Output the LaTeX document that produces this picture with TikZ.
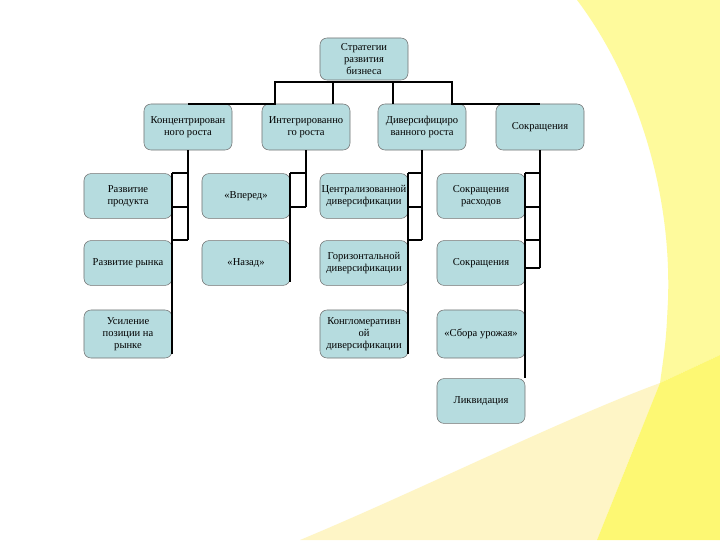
\documentclass[tikz,border=0pt]{standalone}
\usepackage{fontspec}
\setmainfont{Liberation Serif}
\usetikzlibrary{positioning,calc}
\definecolor{boxteal}{HTML}{B6DCDF}
\definecolor{bgyellow}{HTML}{FEFA9C}
\definecolor{bgbright}{HTML}{FDF873}
\definecolor{bgpale}{HTML}{FEF5C6}

\begin{document}
\begin{tikzpicture}[x=0.025cm,y=0.025cm,
  box/.style={draw=black!55,line width=0.4pt,fill=boxteal,rounded corners=5pt,
    align=center,inner sep=1pt,minimum width=2.2cm,minimum height=1.12cm,
    font=\fontsize{7.5}{8.6}\selectfont},
  conn/.style={line width=1.4pt,black}]
  % Background
  \useasboundingbox (0,0) rectangle (720,540);
  \fill[white] (0,0) rectangle (720,540);
  \fill[bgyellow] (577,540) .. controls (630,470) and (672,360) .. (668,240)
    .. controls (666,200) .. (660,157) -- (720,185) -- (720,540) -- cycle;
  \fill[bgpale] (300,0) .. controls (420,50) and (560,120) .. (660,157)
    -- (597,0) -- cycle;
  \fill[bgbright] (597,0) -- (660,157) -- (720,185) -- (720,0) -- cycle;
  % Top
  \node[box,minimum height=1.05cm] (top) at (364,481) {Стратегии\\развития\\бизнеса};
  % Second level
  \node[box,minimum height=1.15cm] (k1) at (188,413) {Концентрирован\\ного роста};
  \node[box,minimum height=1.15cm] (k2) at (306,413) {Интегрированно\\го роста};
  \node[box,minimum height=1.15cm] (k3) at (422,413) {Диверсифициро\\ванного роста};
  \node[box,minimum height=1.15cm] (k4) at (540,413) {Сокращения};
  % Column 1
  \node[box] (a1) at (128,344) {Развитие\\продукта};
  \node[box] (a2) at (128,277) {Развитие рынка};
  \node[box,minimum height=1.2cm] (a3) at (128,206) {Усиление\\позиции на\\рынке};
  % Column 2
  \node[box] (b1) at (246,344) {«Вперед»};
  \node[box] (b2) at (246,277) {«Назад»};
  % Column 3
  \node[box] (c1) at (364,344) {Централизованной\\диверсификации};
  \node[box] (c2) at (364,277) {Горизонтальной\\диверсификации};
  \node[box,minimum height=1.2cm] (c3) at (364,206) {Конгломеративн\\ой\\диверсификации};
  % Column 4
  \node[box] (d1) at (481,344) {Сокращения\\расходов};
  \node[box] (d2) at (481,277) {Сокращения};
  \node[box,minimum height=1.2cm] (d3) at (481,206) {«Сбора урожая»};
  \node[box] (d4) at (481,139) {Ликвидация};
  % Bus under the top box
  \draw[conn] (k1.north) -| ($(k2.north west)+(13,0)$)
    |- ($(k3.north east)+(-14,22)$) |- (k4.north);
  \draw[conn] ($(k2.north)+(27,0)$) -- ++(0,22);
  \draw[conn] ($(k3.north)+(-29,0)$) -- ++(0,22);
  % Columns 1 and 3
  \foreach \up/\one/\two/\last in {k1/a1/a2/a3,k3/c1/c2/c3}{
    \coordinate (mid) at ($(\one.east)+(0,-11)$);
    \draw[conn] (\up.south) -- (\up.south |- \two.north);
    \draw[conn] (\one.north east) -- (\one.north east -| \up.south);
    \draw[conn] (mid) -- (mid -| \up.south);
    \draw[conn] (\two.north east) -- (\two.north east -| \up.south);
    \draw[conn] (\one.north east) -- ($(\last.south east)+(0,4)$);
  }
  % Column 2
  \coordinate (midb) at ($(b1.east)+(0,-11)$);
  \draw[conn] (k2.south) -- (k2.south |- midb);
  \draw[conn] (b1.north east) -- (b1.north east -| k2.south);
  \draw[conn] (midb) -- (midb -| k2.south);
  \draw[conn] (b1.north east) -- ($(b2.south east)+(0,4)$);
  % Column 4
  \coordinate (midd) at ($(d1.east)+(0,-11)$);
  \coordinate (lowd) at ($(d2.east)+(0,-5)$);
  \draw[conn] (k4.south) -- (k4.south |- lowd);
  \foreach \p in {d1.north east,midd,d2.north east,lowd}
    \draw[conn] (\p) -- (\p -| k4.south);
  \draw[conn] (d1.north east) -- (d4.north east);
\end{tikzpicture}
\end{document}
